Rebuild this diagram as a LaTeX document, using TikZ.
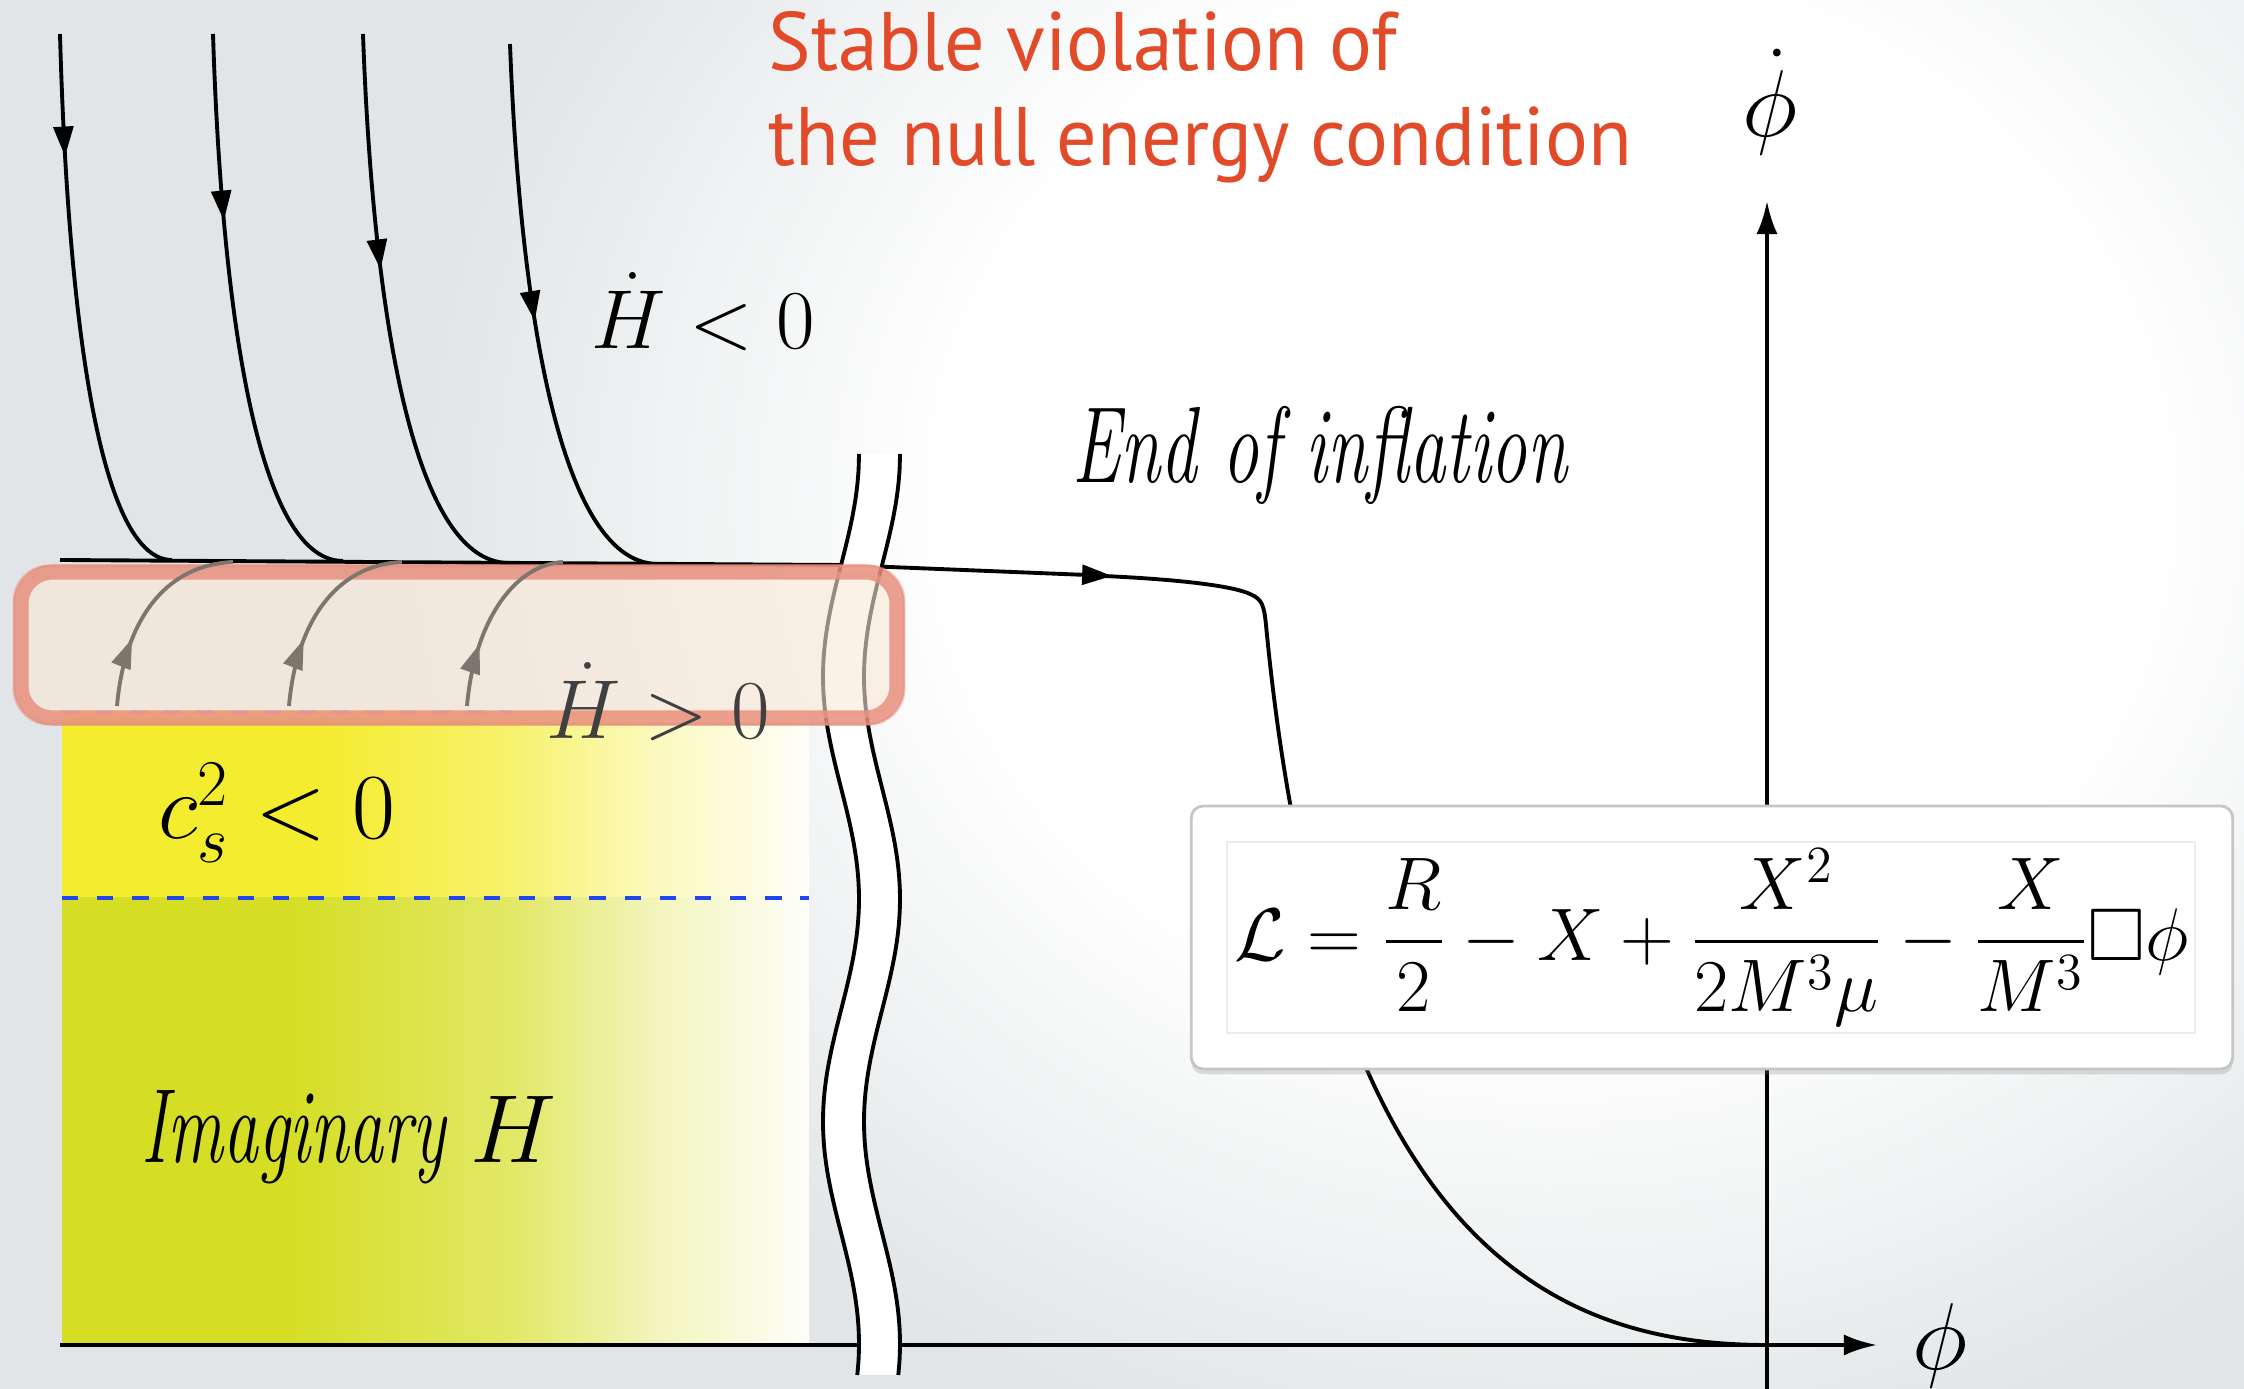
\RequirePackage{fix-cm}
\documentclass[tikz,border=0pt]{standalone}
\usepackage{amsmath,amssymb}
\usepackage{graphicx}
\usepackage{fontspec}
\newfontfamily\titlefont{PT Sans}
\usetikzlibrary{arrows.meta,decorations.markings,shadows}

\definecolor{bgGray}{HTML}{E1E5E7}
\definecolor{necRed}{HTML}{E24B2A}
\definecolor{yelTop}{HTML}{F4EC2E}
\definecolor{yelLow}{HTML}{D5DE24}
\definecolor{hlEdge}{HTML}{E8907E}
\definecolor{hlFill}{HTML}{FBE8D6}
\definecolor{flowGray}{HTML}{7E756C}
\definecolor{dashLight}{HTML}{8494EA}
\definecolor{dashBlue}{HTML}{2145EE}
\colorlet{yelTopA}{yelTop!70!white}
\colorlet{yelTopB}{yelTop!30!white}
\colorlet{yelLowA}{yelLow!70!white}
\colorlet{yelLowB}{yelLow!30!white}
\colorlet{yelEnd}{white!97!yelLow}

% soft white glow over the grey page, and the two yellow bands
\pgfdeclareradialshading{glow}{\pgfpoint{0bp}{0bp}}{color(0bp)=(white); color(13bp)=(white); color(25bp)=(bgGray); color(50bp)=(bgGray)}
\pgfdeclarehorizontalshading{fadeTop}{100bp}{color(0bp)=(yelTop); color(42bp)=(yelTop); color(55bp)=(yelTopA); color(65bp)=(yelTopB); color(75bp)=(yelEnd); color(100bp)=(yelEnd)}
\pgfdeclarehorizontalshading{fadeLow}{100bp}{color(0bp)=(yelLow); color(40bp)=(yelLow); color(55bp)=(yelLowA); color(65bp)=(yelLowB); color(75bp)=(yelEnd); color(100bp)=(yelEnd)}

\begin{document}
\begin{tikzpicture}[x=0.01cm, y=-0.01cm,
    traj/.style={line width=1.1pt},
    flow/.style={flowGray, line width=1.1pt},
    axis/.style={line width=1.2pt, -{Latex[length=9.4pt,width=6pt]}},
    lbl/.style={anchor=base west, inner sep=0pt, font=\fontsize{23.8}{28}\selectfont},
    tip/.style={decoration={markings, mark=at position #1 with {\arrow{Triangle[length=8.5pt,width=5.6pt]}}}, postaction=decorate}]
  \useasboundingbox (0,0) rectangle (2244,1389);
  \fill[bgGray] (0,0) rectangle (2244,1389);
  \begin{scope}
    \clip (0,0) rectangle (2244,1389);
    \shade[shading=glow] (1550,500) ellipse (1150 and 1000);
  \end{scope}

  % unstable region
  \shade[shading=fadeTop] (62,711) rectangle (809,898);
  \shade[shading=fadeLow] (62,898) rectangle (809,1344);
  \draw[dashLight, line width=1.3pt, dash pattern=on 4.8pt off 4.8pt] (62,712) -- (511,712);
  \draw[dashBlue, line width=1.1pt, dash pattern=on 4.6pt off 5.4pt] (62,898) -- (809,898);

  % axes
  \draw[line width=1.2pt] (60,1345) -- (860,1345);
  \draw[axis] (860,1345) -- (1877,1345);
  \draw[axis] (1767,1389) -- (1767,201);
  \node[anchor=base, inner sep=0pt, font=\fontsize{27}{30}\selectfont] (phi) at (1940,1370) {$\phi$};
  \node[anchor=base, inner sep=0pt, font=\fontsize{27}{30}\selectfont] (phidot) at (1770,137) {$\dot\phi$};

  % incoming trajectories
  \foreach \xa/\xb/\ya/\yb/\pos in {60/172/34/560/0.22, 213/343/34/561/0.33, 363/509/34/563/0.41, 510/658/44/564/0.49}
    \draw[traj, tip=\pos] (\xa,\ya) .. controls ({\xa+0.06*(\xb-\xa)},280) and ({\xa+0.3*(\xb-\xa)},\yb) .. (\xb,\yb);

  % attractor and exit to the end of inflation
  \draw[traj, -{Triangle[length=8.5pt,width=5.6pt]}] (60,560) -- (840,565) -- (1112,576);
  \draw[traj] (1104,576) .. controls (1190,580) and (1235,587) .. (1250,594)
    .. controls (1262,599) and (1264,605) .. (1266,625)
    .. controls (1325,1240) and (1550,1345) .. (1767,1345);

  % break of the axis
  \fill[white] plot[domain=454:1375, samples=60] ({841+18*cos(0.809*(\x-454))},\x)
    -- plot[domain=1375:454, samples=60] ({882+18*cos(0.809*(\x-454))},\x) -- cycle;
  \draw[traj] plot[domain=454:1375, samples=60, smooth] ({841+18*cos(0.809*(\x-454))},\x);
  \draw[traj] plot[domain=454:1375, samples=60, smooth] ({882+18*cos(0.809*(\x-454))},\x);

  % NEC violating band
  \draw[hlEdge, line width=4.3pt, fill=hlFill, fill opacity=0.6, draw opacity=0.85, rounded corners=9pt] (21,572) rectangle (897,718);
  \draw[hlEdge, line width=0.8pt, opacity=0.5, rounded corners=10pt] (14,566) rectangle (904,724);

  % flows from the unstable side
  \foreach \xs/\xe in {117/233, 289/402, 467/563}
    \draw[flow, tip=0.34] (\xs,706) .. controls ({\xs+7},625) and ({\xs+45},565) .. (\xe,562);

  \node[lbl, text=black!75] (hdpos) at (546,739) {$\dot H>0$};
  \node[lbl] (hdneg) at (591,349) {$\dot H<0$};
  \node[lbl, font=\fontsize{26.5}{30}\selectfont] (csneg) at (158,839) {$c_s^2<0$};
  \node[lbl, font=\fontsize{30}{34}\selectfont] (imag) at (141,1163)
    {\scalebox{0.66}[1]{\itshape Imaginary}\hspace{7pt}{\fontsize{27.5}{30}\selectfont$H$}};
  \node[lbl, font=\fontsize{30.8}{34}\selectfont] (endinf) at (1072,483) {\scalebox{0.67}[1]{\itshape End of inflation}};
  \node[lbl, font=\fontsize{23.6}{27}\selectfont\titlefont, text=necRed] (nec1) at (768,71) {\scalebox{0.965}[1]{Stable violation of}};
  \node[lbl, font=\fontsize{23.6}{27}\selectfont\titlefont, text=necRed] (nec2) at (768,166) {\scalebox{0.965}[1]{the null energy condition}};

  % the action
  \node[draw=gray!45, fill=white, rounded corners=3.5pt, line width=0.8pt,
        drop shadow={opacity=0.25, shadow xshift=0pt, shadow yshift=-1.5pt},
        minimum width=10.41cm, minimum height=2.63cm, inner sep=0pt,
        font=\fontsize{21.2}{25}\selectfont] (lagr) at (1712,937.5)
    {$\displaystyle\mathcal{L}=\frac{R}{2}-X+\frac{X^2}{2M^3\mu}-\frac{X}{M^3}\Box\phi$};
  \draw[gray!15] (1227,842) rectangle (2195,1033);
\end{tikzpicture}
\end{document}
